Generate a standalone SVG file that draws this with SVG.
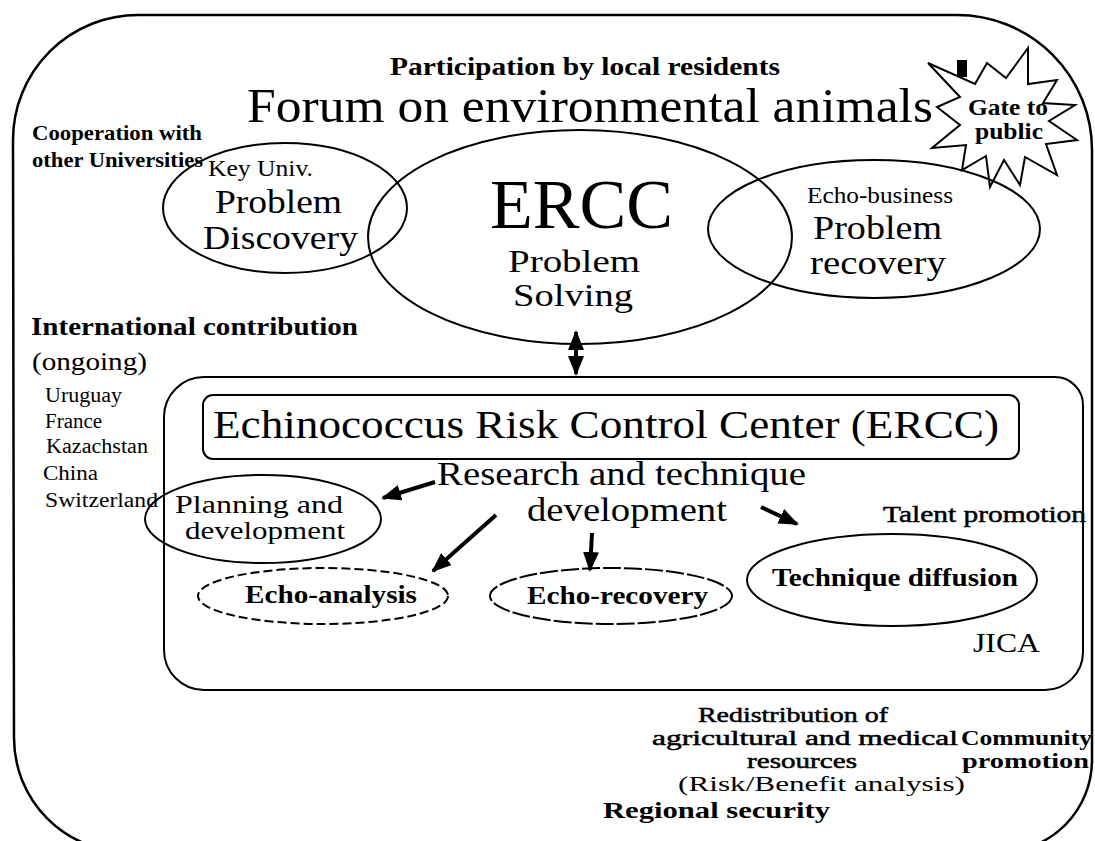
<svg xmlns="http://www.w3.org/2000/svg" width="1095" height="841" viewBox="0 0 1095 841">
<style>
.t{font-family:"Liberation Serif","Times New Roman",serif;fill:#000}
.b{font-weight:bold}
.semi{stroke:#000;stroke-width:0.5}
.ln{fill:none;stroke:#000;stroke-width:2}
.fr{fill:none;stroke:#000;stroke-width:2.5}
.dash{stroke-dasharray:9 4}
.dash2{stroke-dasharray:18 3}
.arr{fill:none;stroke:#000;stroke-width:4}
</style>
<defs>
<marker id="ah" viewBox="0 0 10 10" refX="9" refY="5" markerWidth="20" markerHeight="16" markerUnits="userSpaceOnUse" orient="auto-start-reverse" preserveAspectRatio="none">
<path d="M0,0 L10,5 L0,10 z" fill="#000"/>
</marker>
</defs>
<rect width="1095" height="841" fill="#fff"/>
<g id="frame">
<path class="fr" d="M13,140 A125,125 0 0 1 138,15 L957,15 A135,135 0 0 1 1092,150 L1092,760 A92,92 0 0 1 1000,852 L128,852 A114,114 0 0 1 14,738 Z"/>
</g>
<g id="node-forum">
<text class="t b" x="390" y="75" font-size="26" textLength="390" lengthAdjust="spacingAndGlyphs">Participation by local residents</text>
<text class="t" x="247" y="122" font-size="48" textLength="686" lengthAdjust="spacingAndGlyphs">Forum on environmental animals</text>
</g>
<g id="node-gate">
<polygon class="ln" points="928,63 975,84 987,63 1006,78 1028,48 1028,84 1057,80 1043,103 1075,105 1049,121 1077,140 1046,144 1057,175 1025,157 1020,185 1004,160 990,187 986,156 962,170 966,145 932,148 960,125 937,107 960,97"/>
<rect x="957" y="60" width="10" height="17" fill="#000"/>
<text class="t b" x="968" y="115" font-size="23" textLength="80" lengthAdjust="spacingAndGlyphs">Gate to</text>
<text class="t b" x="975" y="139" font-size="23" textLength="68" lengthAdjust="spacingAndGlyphs">public</text>
</g>
<g id="node-cooperation">
<text class="t b" x="32" y="140" font-size="21" textLength="170" lengthAdjust="spacingAndGlyphs">Cooperation with</text>
<text class="t b" x="32" y="167" font-size="21" textLength="171" lengthAdjust="spacingAndGlyphs">other Universities</text>
</g>
<g id="node-keyuniv">
<ellipse class="ln" cx="285" cy="208" rx="122" ry="65"/>
<text class="t" x="208" y="176" font-size="24" textLength="105" lengthAdjust="spacingAndGlyphs">Key Univ.</text>
<text class="t" x="215" y="213" font-size="33" textLength="127" lengthAdjust="spacingAndGlyphs">Problem</text>
<text class="t" x="203" y="249" font-size="33" textLength="155" lengthAdjust="spacingAndGlyphs">Discovery</text>
</g>
<g id="node-ercc">
<ellipse class="ln" cx="580" cy="237" rx="212" ry="107"/>
<text class="t" x="490" y="228" font-size="70" textLength="183" lengthAdjust="spacingAndGlyphs">ERCC</text>
<text class="t" x="508" y="272" font-size="31" textLength="132" lengthAdjust="spacingAndGlyphs">Problem</text>
<text class="t" x="513" y="306" font-size="31" textLength="120" lengthAdjust="spacingAndGlyphs">Solving</text>
</g>
<g id="node-echobusiness">
<ellipse class="ln" cx="874" cy="229" rx="166" ry="69"/>
<text class="t" x="807" y="203" font-size="24" textLength="146" lengthAdjust="spacingAndGlyphs">Echo-business</text>
<text class="t" x="813" y="239" font-size="33" textLength="129" lengthAdjust="spacingAndGlyphs">Problem</text>
<text class="t" x="810" y="274" font-size="33" textLength="136" lengthAdjust="spacingAndGlyphs">recovery</text>
</g>
<g id="node-international">
<text class="t b" x="31" y="335" font-size="25" textLength="327" lengthAdjust="spacingAndGlyphs">International contribution</text>
<text class="t" x="32" y="370" font-size="25" textLength="115" lengthAdjust="spacingAndGlyphs">(ongoing)</text>
<text class="t" x="45" y="402" font-size="20" textLength="77" lengthAdjust="spacingAndGlyphs">Uruguay</text>
<text class="t" x="45" y="428" font-size="20" textLength="57" lengthAdjust="spacingAndGlyphs">France</text>
<text class="t" x="46" y="453" font-size="20" textLength="102" lengthAdjust="spacingAndGlyphs">Kazachstan</text>
<text class="t" x="43" y="480" font-size="20" textLength="55" lengthAdjust="spacingAndGlyphs">China</text>
<text class="t" x="45" y="507" font-size="20" textLength="113" lengthAdjust="spacingAndGlyphs">Switzerland</text>
</g>
<g id="node-center">
<path class="ln" d="M204,377 L1055,377 A28,28 0 0 1 1083,405 L1083,652 A38,38 0 0 1 1045,690 L204,690 A40,40 0 0 1 164,650 L164,417 A40,40 0 0 1 204,377 Z"/>
<text class="t semi" x="883" y="522" font-size="24" textLength="203" lengthAdjust="spacingAndGlyphs">Talent promotion</text>
<text class="t" x="973" y="652" font-size="28" textLength="67" lengthAdjust="spacingAndGlyphs">JICA</text>
</g>
<g id="node-title">
<rect class="ln" x="203" y="395" width="816" height="64" rx="10"/>
<text class="t" x="213" y="438" font-size="40" textLength="786" lengthAdjust="spacingAndGlyphs">Echinococcus Risk Control Center (ERCC)</text>
</g>
<g id="node-research">
<text class="t" x="437" y="485" font-size="34" textLength="369" lengthAdjust="spacingAndGlyphs">Research and technique</text>
<text class="t" x="527" y="521" font-size="34" textLength="200" lengthAdjust="spacingAndGlyphs">development</text>
</g>
<g id="node-planning">
<ellipse class="ln" cx="263" cy="519" rx="118" ry="44"/>
<text class="t" x="175" y="513" font-size="26" textLength="168" lengthAdjust="spacingAndGlyphs">Planning and</text>
<text class="t" x="185" y="539" font-size="26" textLength="160" lengthAdjust="spacingAndGlyphs">development</text>
</g>
<g id="node-echo-analysis">
<ellipse class="ln dash" cx="323" cy="596" rx="125" ry="28"/>
<text class="t b" x="245" y="603" font-size="25" textLength="172" lengthAdjust="spacingAndGlyphs">Echo-analysis</text>
</g>
<g id="node-echo-recovery">
<ellipse class="ln dash2" cx="611" cy="596" rx="121" ry="28"/>
<text class="t b" x="527" y="604" font-size="25" textLength="181" lengthAdjust="spacingAndGlyphs">Echo-recovery</text>
</g>
<g id="node-technique">
<ellipse class="ln" cx="892" cy="580" rx="145" ry="46"/>
<text class="t b" x="772" y="586" font-size="25" textLength="246" lengthAdjust="spacingAndGlyphs">Technique diffusion</text>
</g>
<g id="node-bottom">
<text class="t semi" x="698" y="722" font-size="21" textLength="190" lengthAdjust="spacingAndGlyphs">Redistribution of</text>
<text class="t semi" x="652" y="745" font-size="21" textLength="306" lengthAdjust="spacingAndGlyphs">agricultural and medical</text>
<text class="t semi" x="747" y="768" font-size="21" textLength="110" lengthAdjust="spacingAndGlyphs">resources</text>
<text class="t" x="678" y="791" font-size="21" textLength="287" lengthAdjust="spacingAndGlyphs">(Risk/Benefit analysis)</text>
<text class="t b" x="603" y="818" font-size="24" textLength="227" lengthAdjust="spacingAndGlyphs">Regional security</text>
<text class="t b" x="961" y="745" font-size="22" textLength="131" lengthAdjust="spacingAndGlyphs">Community</text>
<text class="t b" x="962" y="768" font-size="22" textLength="127" lengthAdjust="spacingAndGlyphs">promotion</text>
</g>
<g id="connectors">
<line class="arr" x1="576" y1="332" x2="576" y2="374" marker-start="url(#ah)" marker-end="url(#ah)" stroke-width="3"/>
<line class="arr" x1="435" y1="482" x2="383" y2="498" marker-end="url(#ah)"/>
<line class="arr" x1="496" y1="515" x2="433" y2="571" marker-end="url(#ah)"/>
<line class="arr" x1="592" y1="533" x2="590" y2="570" marker-end="url(#ah)"/>
<line class="arr" x1="761" y1="507" x2="797" y2="524" marker-end="url(#ah)"/>
</g>
</svg>
